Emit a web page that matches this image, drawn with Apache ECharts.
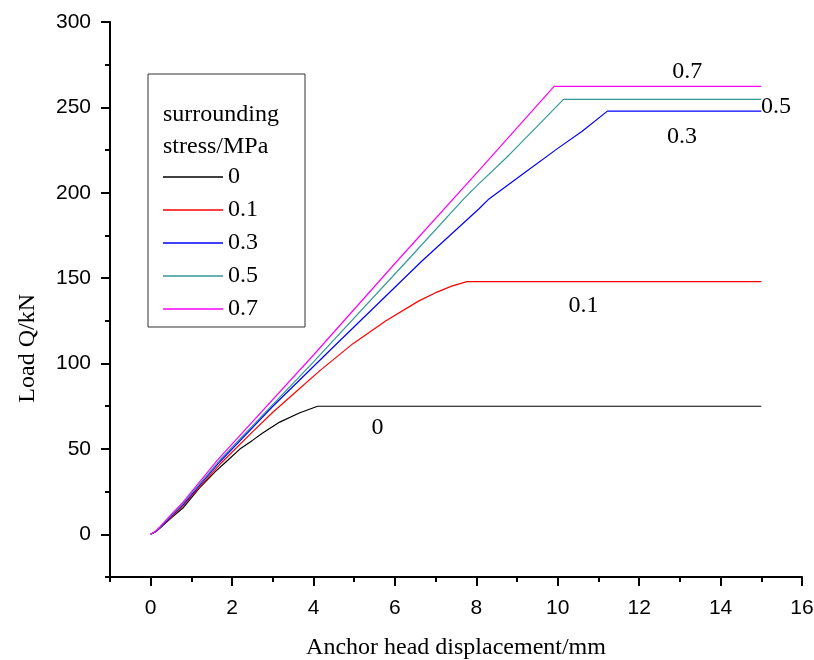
<!DOCTYPE html>
<html>
<head>
<meta charset="utf-8">
<script src="https://cdn.jsdelivr.net/npm/echarts@6/dist/echarts.min.js"></script>
<style>html,body{margin:0;padding:0;background:#fff}#c{width:814px;height:660px}</style>
</head>
<body>
<div id="c"></div>
<script>
var seriesNames = ['0', '0.1', '0.3', '0.5', '0.7'];
var seriesColors = ['#000000', '#ff0000', '#0000ff', '#339999', '#ff00ff'];

var curve00 = [[0,0],[0.12,1.5],[0.23,3.7],[0.5,9.5],[0.79,15.4],[1.2,27.2],[1.6,37],[1.9,43.5],[2.19,49.9],[2.5,55],[2.75,59.3],[3.17,65.7],[3.65,71],[4.1,75],[15,75]];
var curve01 = [[0,0],[0.12,1.5],[0.23,3.9],[0.5,10],[0.8,17],[1.7,41],[2.5,60],[3.0,71.5],[3.5,82],[4.15,95.7],[4.96,111.5],[5.78,125],[6.59,136.7],[7.0,141.5],[7.41,145.5],[7.77,148],[15,148]];
var curve03 = [[0,0],[0.12,1.6],[0.23,4],[0.5,10.5],[0.8,17.5],[1.7,42.5],[3,75],[4.5,110],[6.67,160.2],[8.06,190.5],[8.31,196.4],[9.2,212],[10.0,226],[10.6,236],[11.22,247.8],[15,247.8]];
var curve05 = [[0,0],[0.12,1.7],[0.23,4.2],[0.5,11],[0.8,18.2],[1.7,43.5],[4,101],[6.3,160.2],[7.69,196.4],[8.06,205.2],[8.8,222],[9.5,239],[10.14,254.7],[15,254.7]];
var curve07 = [[0,0],[0.12,1.8],[0.23,4.5],[0.5,11.5],[0.8,19],[1.65,43.7],[4,105],[6.06,160.2],[8.06,213],[9.91,262.3],[15,262.3]];
var curves = [curve00, curve01, curve03, curve05, curve07];

var curveLabelX = [5.57, 10.63, 13.05, 15.36, 13.18];
var curveLabelY = [62.4, 133.8, 232.6, 250.6, 270.7];
var curveLabelText = ['0', '0.1', '0.3', '0.5', '0.7'];

var xMajorTicks = [0, 2, 4, 6, 8, 10, 12, 14, 16];
var xMinorTicks = [-1, 1, 3, 5, 7, 9, 11, 13, 15];
var yMajorTicks = [0, 50, 100, 150, 200, 250, 300];
var yMinorTicks = [-25, 25, 75, 125, 175, 225, 275];

var serif = '"Liberation Serif", "Times New Roman", serif';
var sans = '"Liberation Sans", Arial, sans-serif';

var chart = echarts.init(document.getElementById('c'), null, {renderer: 'canvas'});

var grid = {left: 110, right: 12, top: 22, bottom: 83, containLabel: false, outerBoundsMode: 'none'};

function xAxisDef(major) {
  return {
    type: 'value', min: -1, max: 16, interval: 1, position: 'bottom',
    splitLine: {show: false},
    axisLine: {show: major, onZero: false, lineStyle: {color: '#000', width: 2}},
    axisTick: {show: true, length: major ? 9 : 5, lineStyle: {color: '#000', width: 2},
               customValues: major ? xMajorTicks : xMinorTicks},
    axisLabel: {show: major, customValues: xMajorTicks, color: '#000', fontFamily: sans, fontSize: 21, margin: 21},
    name: major ? 'Anchor head displacement/mm' : '',
    nameLocation: 'middle', nameGap: 59,
    nameTextStyle: {fontFamily: serif, fontSize: 24, color: '#000'}
  };
}
function yAxisDef(major) {
  return {
    type: 'value', min: -25, max: 300, interval: 25, position: 'left',
    splitLine: {show: false},
    axisLine: {show: major, onZero: false, lineStyle: {color: '#000', width: 2}},
    axisTick: {show: true, length: major ? 9 : 5, lineStyle: {color: '#000', width: 2},
               customValues: major ? yMajorTicks : yMinorTicks},
    axisLabel: {show: major, customValues: yMajorTicks, color: '#000', fontFamily: sans, fontSize: 21, margin: 19}
  };
}

var series = curves.map(function (c, i) {
  return {
    name: seriesNames[i], type: 'line', data: c, xAxisIndex: 0, yAxisIndex: 0,
    symbol: 'none', showSymbol: false, smooth: false,
    lineStyle: {color: seriesColors[i], width: 1.2},
    itemStyle: {color: seriesColors[i]},
    silent: true, animation: false
  };
});
series.push({
  type: 'scatter', name: 'labels', symbolSize: 0, silent: true, animation: false,
  itemStyle: {opacity: 1, color: '#000'},
  data: curveLabelX.map(function (x, i) { return {value: [x, curveLabelY[i]], name: curveLabelText[i]}; }),
  label: {show: true, position: 'inside', formatter: function (p) { return p.name; },
          color: '#000', opacity: 1, textBorderWidth: 0, fontFamily: serif, fontSize: 24}
});

chart.setOption({
  animation: false,
  backgroundColor: '#fff',
  grid: grid,
  xAxis: [xAxisDef(true), xAxisDef(false)],
  yAxis: [yAxisDef(true), yAxisDef(false)],
  legend: {
    data: seriesNames.map(function (n) { return {name: n, icon: 'rect'}; }),
    orient: 'vertical', left: 148, top: 74,
    padding: [91, 47, 6, 15], itemGap: 9, itemWidth: 60, itemHeight: 1.5,
    borderColor: '#333', borderWidth: 1, backgroundColor: '#fff',
    textStyle: {fontFamily: serif, fontSize: 24, color: '#000', lineHeight: 24},
    selectedMode: false
  },
  graphic: [
    {type: 'text', left: 28 - 12, top: 350 - 56, rotation: Math.PI / 2, z: 10,
     style: {text: 'Load Q/kN', font: '24px ' + serif, fill: '#000'}},
    {type: 'text', left: 163, top: 103, z: 100,
     style: {text: 'surrounding', font: '24px ' + serif, fill: '#000'}},
    {type: 'text', left: 163, top: 135, z: 100,
     style: {text: 'stress/MPa', font: '24px ' + serif, fill: '#000'}}
  ],
  series: series
});
</script>
</body>
</html>
